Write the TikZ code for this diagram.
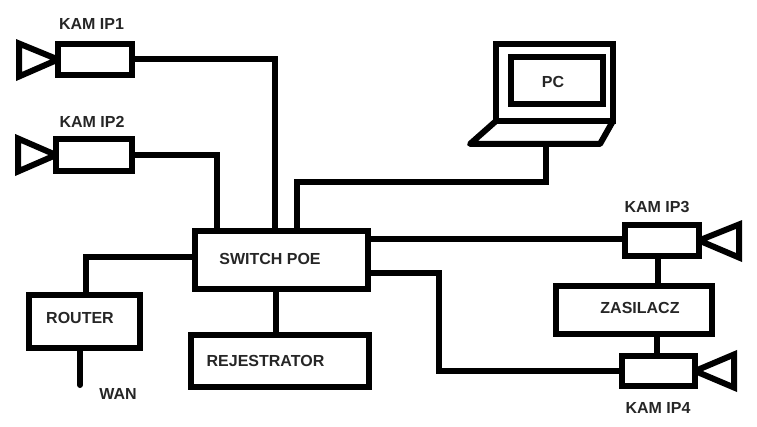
\documentclass[tikz,border=0pt]{standalone}
\usepackage{fontspec}
\setmainfont{Liberation Sans}
\usetikzlibrary{backgrounds}
\begin{document}
\begin{tikzpicture}[x=1pt,y=-1pt,
  box/.style 2 args={draw=black,fill=white,line width=6pt,inner sep=0pt,outer sep=0pt,minimum width=#1pt,minimum height=#2pt},
  wire/.style={draw=black,line width=6pt,line join=miter},
  lens/.style={draw=black,line width=6pt,line join=miter},
  lab/.style={anchor=base,inner sep=0pt,text=black!85,font=\fontsize{16}{18}\selectfont\bfseries}]
\useasboundingbox (0,0) rectangle (757,427);
% boxes
\node[box={74}{31}] (cam1) at (95,59.5) {};
\node[box={76}{32}] (cam2) at (94,155) {};
\node[box={74}{31}] (cam3) at (662,240.5) {};
\node[box={73}{30}] (cam4) at (658.5,371) {};
\node[box={173}{58}] (switch) at (281.5,260) {};
\node[box={111}{53}] (router) at (84.5,321.5) {};
\node[box={178}{52}] (rej) at (280,361) {};
\node[box={156}{48}] (zas) at (634,310) {};
\node[box={117}{77}] (screen) at (554.5,82.5) {};
\node[box={92}{47}] (inner) at (557,80.5) {};
\coordinate (wanend) at (80,385);
% lenses, under the camera bodies
\begin{pgfonlayer}{background}
\draw[lens] (cam1.west) -- (19,43.5) -- (19,76.5) -- cycle;
\draw[lens] (cam2.west) -- (18,138.5) -- (18,171.5) -- cycle;
\draw[lens] (cam3.east) -- (739,224.5) -- (739,257.5) -- cycle;
\draw[lens] (cam4.east) -- (734,354.5) -- (734,387.5) -- cycle;
\end{pgfonlayer}
% laptop base
\coordinate (lapl) at (470,144);
\coordinate (lapr) at (600,144);
\draw[wire,line cap=round,line join=round] (screen.south west) -- (lapl) -- (lapr) -- (screen.south east);
% connectors
\coordinate (pcdrop) at (545.5,182);
\draw[wire] (cam1.east) -| ([xshift=-6.5pt]switch.north);
\draw[wire] (cam2.east) -| ([xshift=-64.5pt]switch.north);
\draw[wire] ([xshift=15.5pt]switch.north) |- (pcdrop) -- (pcdrop |- lapl);
\draw[wire] ([yshift=21pt]switch.east) -- (cam3.west |- 0,239);
\draw[wire] ([yshift=-13pt]switch.east) -| (439,371) -- (cam4.west);
\draw[wire] (switch.west |- 0,257) -| (86,295);
\draw[wire] (switch.south -| 276,0) -- (rej.north -| 276,0);
\draw[wire,line cap=round] (router.south -| wanend) -- (wanend);
\draw[wire] (cam3.south -| 658,0) -- (zas.north -| 658,0);
\draw[wire] (zas.south -| 657,0) -- (cam4.north -| 657,0);
% labels
\node[lab] (l1) at (91.5,29.5) {KAM IP1};
\node[lab] (l2) at (92,127.5) {KAM IP2};
\node[lab] (l3) at (657,212.5) {KAM IP3};
\node[lab] (l4) at (658,413.5) {KAM IP4};
\node[lab] (lpc) at (553,87.5) {PC};
\node[lab] (lsw) at (270,264.5) {SWITCH POE};
\node[lab] (lr) at (80,323.5) {ROUTER};
\node[lab] (lw) at (118,399.5) {WAN};
\node[lab] (lrej) at (265.5,366.5) {REJESTRATOR};
\node[lab] (lz) at (640,313.5) {ZASILACZ};
\end{tikzpicture}
\end{document}
